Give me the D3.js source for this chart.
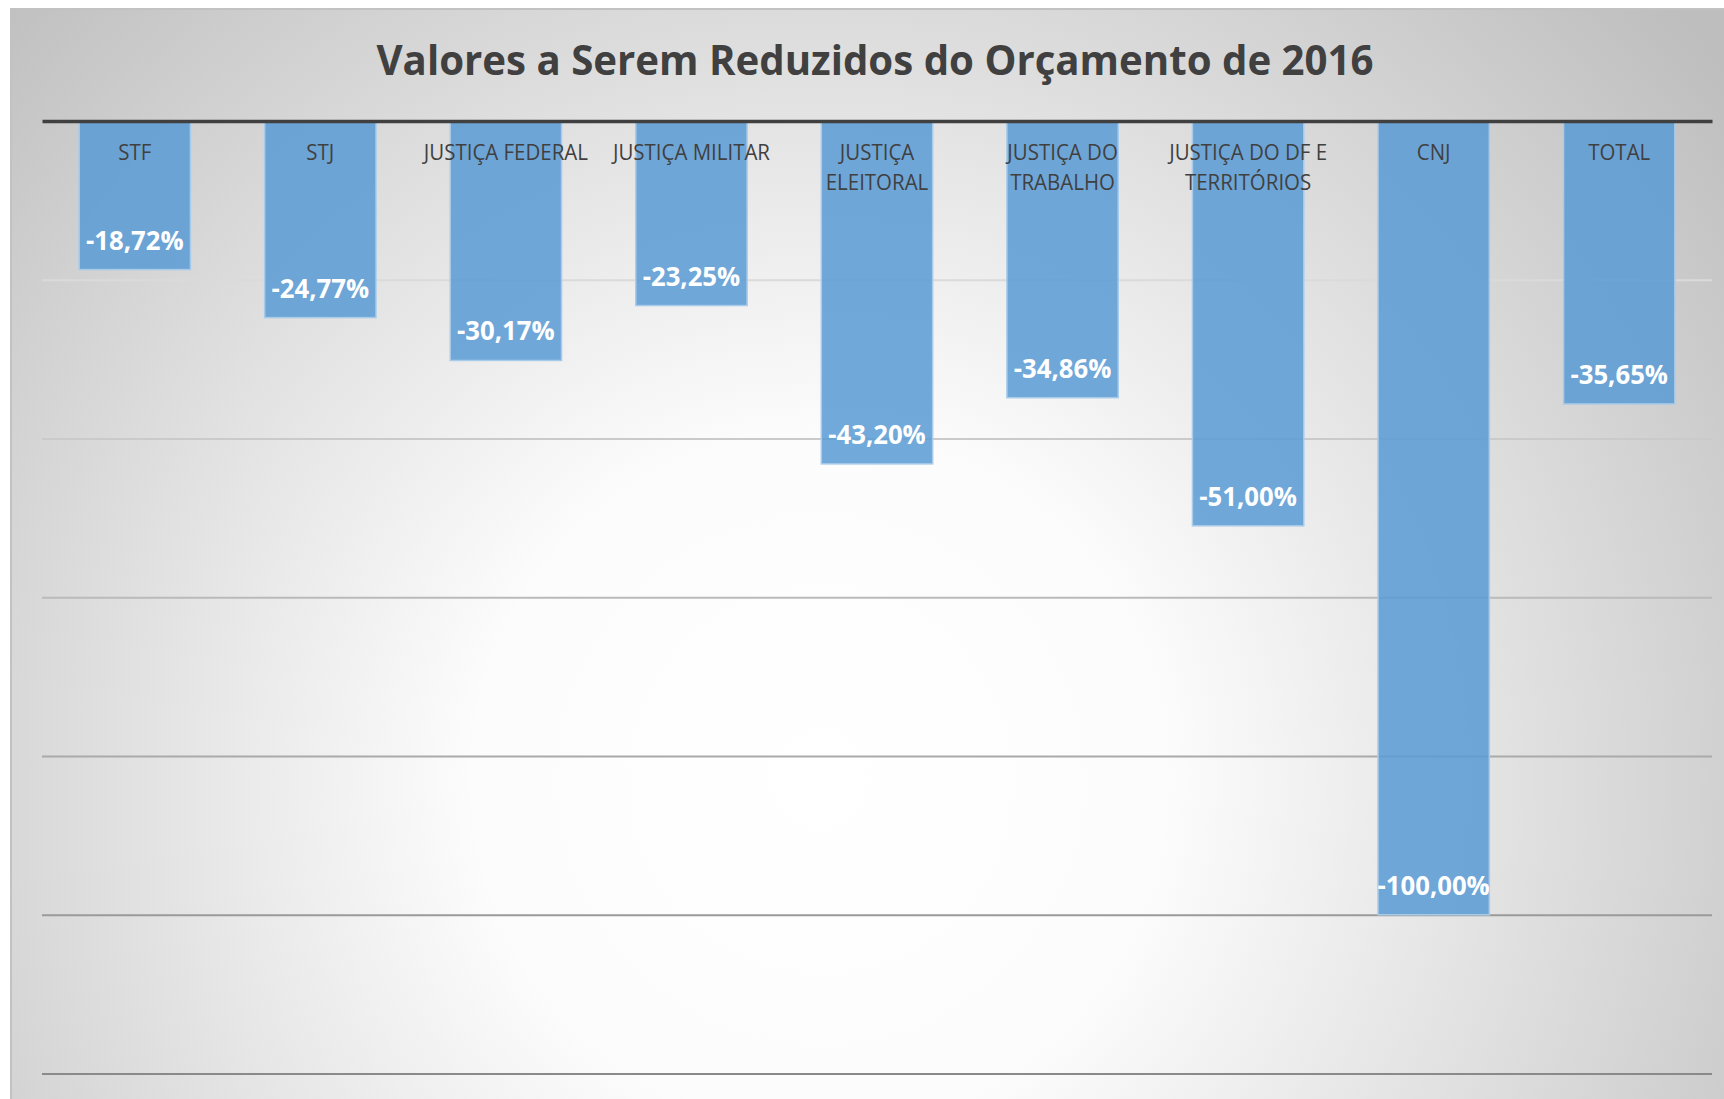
<!DOCTYPE html>
<html>
<head>
<meta charset="utf-8">
<script src="https://cdn.jsdelivr.net/npm/d3@7"></script>
<style>
  html, body { margin: 0; padding: 0; background: #ffffff; overflow: hidden; }
  svg { display: block; }
</style>
</head>
<body>
<svg id="chart" width="1724" height="1099"></svg>
<script>
// ---- data ----
const titleText = "Valores a Serem Reduzidos do Orçamento de 2016";
const categories = ["STF", "STJ", "JUSTIÇA FEDERAL", "JUSTIÇA MILITAR", "JUSTIÇA ELEITORAL",
                    "JUSTIÇA DO TRABALHO", "JUSTIÇA DO DF E TERRITÓRIOS", "CNJ", "TOTAL"];
const values = [-0.1872, -0.2477, -0.3017, -0.2325, -0.4320, -0.3486, -0.5100, -1.0000, -0.3565];
const valueLabels = ["-18,72%", "-24,77%", "-30,17%", "-23,25%", "-43,20%", "-34,86%", "-51,00%", "-100,00%", "-35,65%"];
const yTicks = [-0.2, -0.4, -0.6, -0.8, -1.0, -1.2];

// ---- layout ----
const W = 1724, H = 1099;
const plot = { left: 42, right: 1712, top: 121, bottom: 1073.5 };

const svg = d3.select("#chart");
const defs = svg.append("defs");

const grad = defs.append("radialGradient")
  .attr("id", "bg").attr("gradientUnits", "userSpaceOnUse")
  .attr("cx", 820).attr("cy", 780).attr("r", 1150);
grad.append("stop").attr("offset", 0).attr("stop-color", "#ffffff");
grad.append("stop").attr("offset", 0.3).attr("stop-color", "#fcfcfc");
grad.append("stop").attr("offset", 1).attr("stop-color", "#bebebe");

svg.append("rect").attr("x", 0).attr("y", 0).attr("width", W).attr("height", H).attr("fill", "#ffffff");
svg.append("rect")
  .attr("x", 11).attr("y", 9).attr("width", W + 20).attr("height", H + 20)
  .attr("fill", "url(#bg)").attr("stroke", "#c2c2c2").attr("stroke-width", 2);

// ---- scales ----
const x = d3.scaleBand().domain(categories).range([plot.left, plot.right])
  .paddingInner(0.4).paddingOuter(0.2);
const y = d3.scaleLinear().domain([-1.2, 0]).range([plot.bottom, plot.top]);

// ---- gridlines ----
const gridColor = d3.scaleLinear().domain([y(-0.2), y(-1.2)]).range(["#dadada", "#8a8a8a"]);
const gGrid = svg.append("g").attr("transform", `translate(${plot.left},0)`)
  .call(d3.axisLeft(y).tickValues(yTicks).tickSize(-(plot.right - plot.left)).tickFormat(""));
gGrid.select(".domain").remove();
gGrid.selectAll(".tick line")
  .attr("stroke", d => gridColor(y(d)))
  .attr("stroke-width", 2);

// ---- bars ----
svg.append("g").selectAll("rect").data(values).join("rect")
  .attr("x", (d, i) => x(categories[i]))
  .attr("width", x.bandwidth())
  .attr("y", y(0))
  .attr("height", d => y(d) - y(0))
  .attr("fill", "#5b9bd5").attr("fill-opacity", 0.86)
  .attr("stroke", "#a9cbea").attr("stroke-width", 1.5);

// ---- zero axis line (category axis) ----
const gX = svg.append("g").attr("transform", `translate(0,${y(0)})`)
  .call(d3.axisTop(x).tickSize(0).tickFormat(""));
gX.select(".domain").attr("stroke", "#404040").attr("stroke-width", 3.5);

// ---- category labels (wrapped) ----
const catFont = "Open Sans, Noto Sans, sans-serif";
const squeeze = 0.93;
const maxW = x.step() - 4;
const measure = svg.append("text").attr("font-family", catFont).attr("font-size", 22).attr("opacity", 0);
function textW(s) { measure.text(s); return measure.node().getComputedTextLength(); }
function wrap(label) {
  const words = label.split(" ");
  const lines = [];
  let cur = "";
  words.forEach(w => {
    const t = cur ? cur + " " + w : w;
    if (cur && textW(t) * squeeze > maxW) { lines.push(cur); cur = w; }
    else cur = t;
  });
  if (cur) lines.push(cur);
  return lines;
}
const gCat = svg.append("g");
categories.forEach(c => {
  const lines = wrap(c);
  lines.forEach((ln, j) => {
    const t = gCat.append("text")
      .attr("x", x(c) + x.bandwidth() / 2)
      .attr("y", 160 + j * 30)
      .attr("text-anchor", "middle")
      .attr("font-family", catFont).attr("font-size", 22)
      .attr("fill", "#404040")
      .text(ln);
    const w = t.node().getComputedTextLength();
    t.attr("textLength", w * squeeze).attr("lengthAdjust", "spacingAndGlyphs");
  });
});
measure.remove();

// ---- value labels ----
svg.append("g").selectAll("text").data(values).join("text")
  .attr("x", (d, i) => x(categories[i]) + x.bandwidth() / 2)
  .attr("y", d => y(d) - 20)
  .attr("text-anchor", "middle")
  .attr("font-family", catFont).attr("font-weight", 700).attr("font-size", 26.5)
  .attr("fill", "#ffffff")
  .text((d, i) => valueLabels[i])
  .each(function () {
    const w = this.getComputedTextLength();
    d3.select(this).attr("textLength", w * 0.97).attr("lengthAdjust", "spacingAndGlyphs");
  });

// ---- title ----
const title = svg.append("text")
  .attr("x", 875).attr("y", 75)
  .attr("text-anchor", "middle")
  .attr("font-family", catFont).attr("font-weight", 700).attr("font-size", 42)
  .attr("fill", "#404040")
  .text(titleText);
const tw = title.node().getComputedTextLength();
if (tw > 997) title.attr("textLength", 997).attr("lengthAdjust", "spacingAndGlyphs");
</script>
</body>
</html>
